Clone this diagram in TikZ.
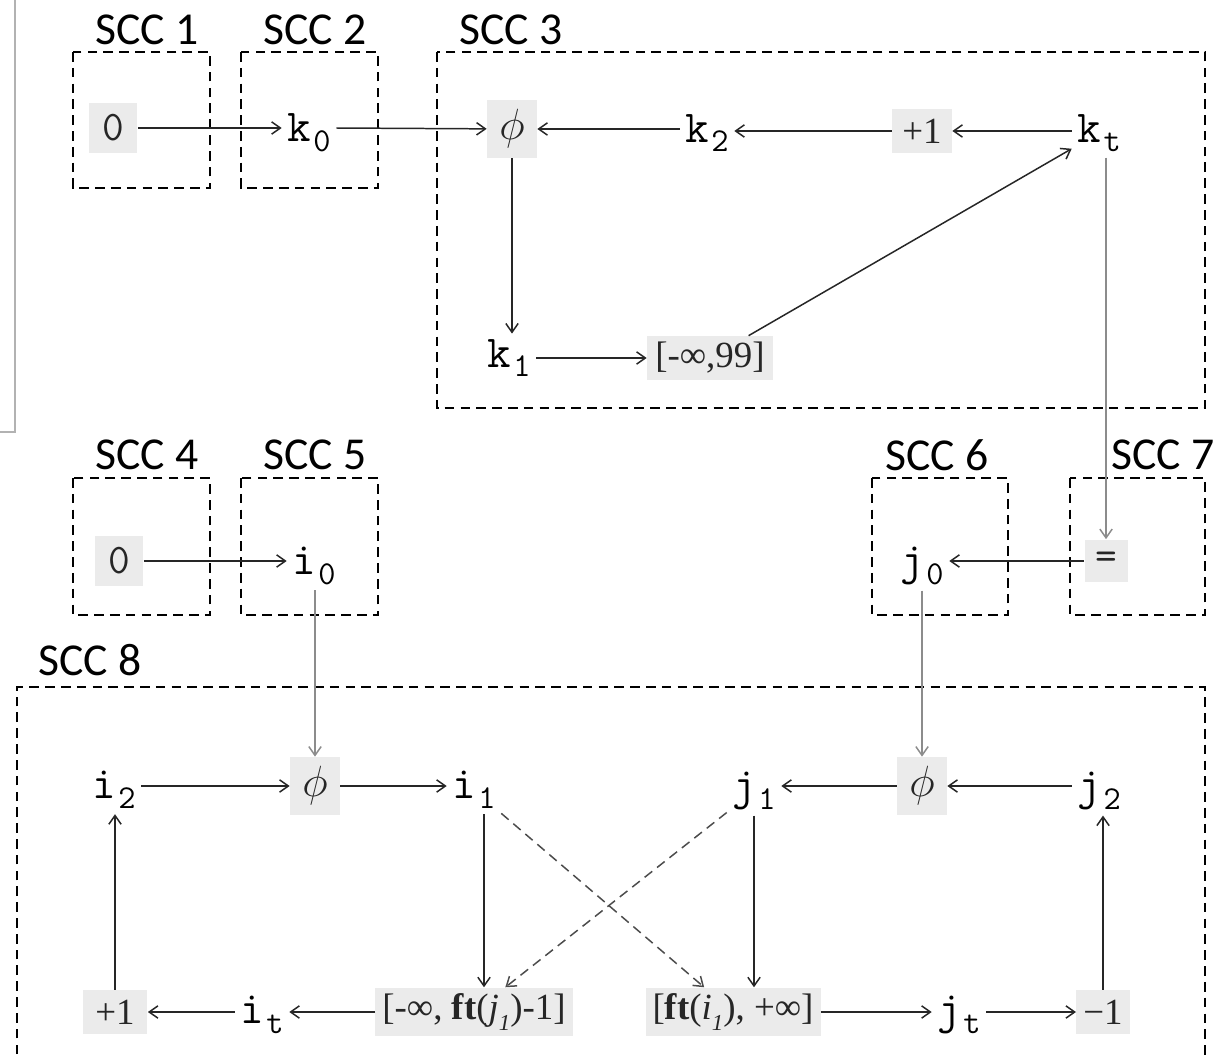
\documentclass[tikz,border=0pt]{standalone}
\usepackage{fontspec}
\setmainfont{Liberation Serif}
\newfontfamily\sccfont{Carlito}
\newcommand{\varfont}{\ttfamily}
\usepackage{tikz}
\usetikzlibrary{arrows.meta}

% variable with a subscript
\newcommand{\vsub}[2]{{\varfont\fontsize{26}{28}\selectfont #1}\hspace{1.5pt}\raisebox{-0.55em}{\varfont\fontsize{19}{20}\selectfont #2}}
\newcommand{\isub}[1]{\raisebox{-0.3em}{\fontsize{13}{14}\selectfont\textit{#1}}}

\tikzset{
  scc/.style={draw, line width=1.1pt, dash pattern=on 5.5pt off 3.5pt},
  scclabel/.style={font=\sccfont\fontsize{26}{30}\selectfont, inner sep=0pt},
  var/.style={inner sep=3pt, text=black},
  op/.style={fill=black!8, inner xsep=4pt, minimum height=0.88cm, text=black!85,
    font=\fontsize{21}{24}\selectfont},
  cst/.style={op, font=\varfont\fontsize{24}{26}\selectfont, minimum width=0.98cm, minimum height=1cm},
  phibox/.style={op, font=\fontsize{24.88}{28}\selectfont, minimum width=1cm, minimum height=1.16cm},
  conn/.style={-{Straight Barb[length=5pt,width=7pt]}, line width=0.85pt, black!85},
  weak/.style={conn, black!45},
  dep/.style={conn, black!70, dash pattern=on 5.5pt off 3.5pt},
}

\begin{document}
\begin{tikzpicture}[x=0.02cm, y=-0.02cm]
  \useasboundingbox (0,0) rectangle (1223,1057);
  % frame of the page
  \draw[black!30, line width=1pt] (15,0) -- (15,432) -- (0,432);

  % SCC boxes and their labels
  \foreach \n/\xa/\ya/\xb/\yb/\lx/\ly in {1/73/52/210/188/147/30, 2/241/52/378/188/315/30,
      3/437/52/1205/408/511/30, 4/73/478/210/615/147/455, 5/241/478/378/615/315/455,
      6/872/478/1008/615/937/455, 7/1070/478/1205/615/1163/455}{
    \draw[scc] (\xa,\ya) rectangle (\xb,\yb);
    \node[scclabel] (lbl\n) at (\lx,\ly) {SCC \n};
  }
  \draw[scc] (17,1070) -- (17,687) -- (1205,687) -- (1205,1070);
  \node[scclabel] (lbl8) at (90,660) {SCC 8};

  % SCC 1-3
  \node[cst] (zeroa) at (113,128) {0};
  \node[var] (k0) at (309,133) {\vsub{k}{0}};
  \node[phibox] (phia) at (512,129) {$\phi$};
  \node[var] (k2) at (707,133) {\vsub{k}{2}};
  \node[op, minimum width=1.2cm] (inca) at (922,131) {+1};
  \node[var] (kt) at (1099,133) {\vsub{k}{t}};
  \node[var] (k1) at (509,358) {\vsub{k}{1}};
  \node[op, minimum width=2.52cm] (lim) at (710,358) {[-∞,99]};

  \draw[conn] (zeroa) -- (zeroa -| k0.west);
  \draw[conn] (k0.east |- zeroa) -- (phia);
  \draw[conn] (k2.west |- phia) -- (phia);
  \draw[conn] (inca) -- (inca -| k2.east);
  \draw[conn] (kt.west |- inca) -- (inca);
  \draw[conn] (phia) -- (phia |- k1.north);
  \draw[conn] (k1.east |- lim) -- (lim);
  \draw[conn] (lim) -- (kt);

  % SCC 4-7
  \node[cst] (zerob) at (119,561) {0};
  \node[var] (i0) at (314,566) {\vsub{i}{0}};
  \node[op, font=\varfont\fontsize{24}{26}\selectfont, minimum width=0.86cm, minimum height=0.86cm] (eq) at (1106,561) {=};
  \node[var] (j0) at (922,566) {\vsub{j}{0}};

  \draw[weak] (kt.south -| eq) -- (eq.north);
  \draw[conn] (eq) -- (eq -| j0.east);
  \draw[conn] (zerob) -- (zerob -| i0.west);

  % SCC 8
  \node[var] (i2) at (114,790) {\vsub{i}{2}};
  \node[phibox] (phib) at (315,786) {$\phi$};
  \node[var] (i1) at (474,790) {\vsub{i}{1}};
  \node[var] (j1) at (754,791) {\vsub{j}{1}};
  \node[phibox] (phic) at (922,786) {$\phi$};
  \node[var] (j2) at (1099,791) {\vsub{j}{2}};
  \node[op, minimum width=1.3cm] (incb) at (115,1012) {+1};
  \node[var] (it) at (262,1015) {\vsub{i}{t}};
  \node[op, minimum width=3.68cm] (lo) at (474,1012) {[-∞, \textbf{ft}(\textit{j}\isub{1})-1]};
  \node[op, minimum width=2.68cm] (hi) at (733,1012) {[\textbf{ft}(\textit{i}\isub{1}), +∞]};
  \node[var] (jt) at (959,1015) {\vsub{j}{t}};
  \node[op, minimum width=1cm] (dec) at (1103,1012) {−1};

  \draw[weak] (i0.south -| phib) -- (phib.north);
  \draw[weak] (j0.south -| phic) -- (phic.north);
  \draw[conn] (i2.east |- phib) -- (phib);
  \draw[conn] (phib) -- (phib -| i1.west);
  \draw[conn] (phic) -- (phic -| j1.east);
  \draw[conn] (j2.west |- phic) -- (phic);
  \draw[conn] ([xshift=0.2cm]i1.south) -- ([xshift=0.2cm]i1.south |- lo.north);
  \draw[conn] (j1.south) -- (j1.south |- hi.north);
  \draw[conn] (lo) -- (lo -| it.east);
  \draw[conn] (it.west |- incb) -- (incb);
  \draw[conn] (incb) -- (incb |- i2.south);
  \draw[conn] (hi) -- (hi -| jt.west);
  \draw[conn] (jt.east |- dec) -- (dec);
  \draw[conn] (dec) -- (dec |- j2.south);
  % dashed dependencies
  \draw[dep] (i1) -- (hi);
  \draw[dep] (j1) -- (lo);
\end{tikzpicture}
\end{document}
